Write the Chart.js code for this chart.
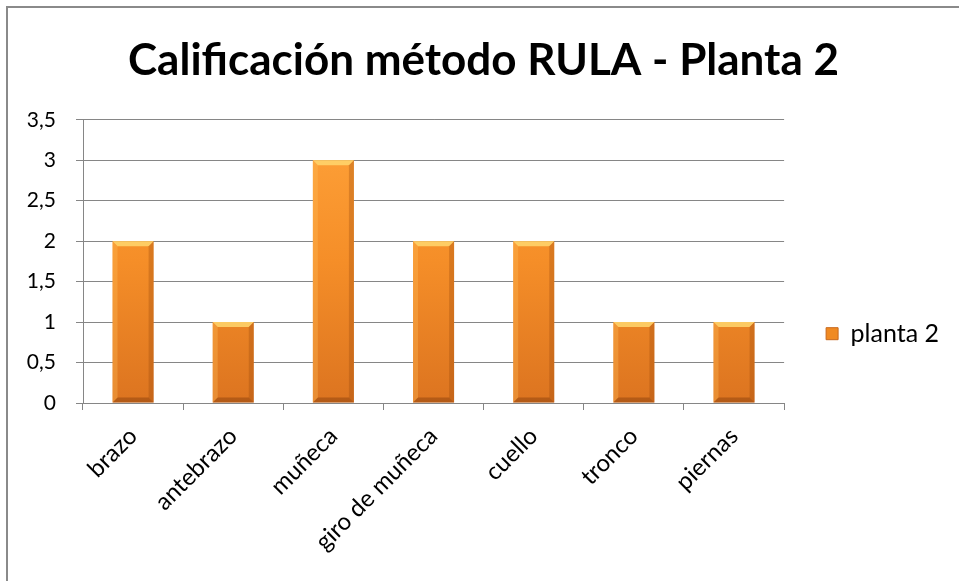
<!DOCTYPE html>
<html><head><meta charset="utf-8">
<script src="https://cdn.jsdelivr.net/npm/chart.js@4.4.0/dist/chart.umd.min.js"></script>
<style>
html,body{margin:0;padding:0;background:#fff;}
#wrap{position:absolute;left:0;top:0;width:959px;height:581px;}
#frame{position:absolute;left:6px;top:6px;width:960px;height:600px;border-left:2px solid #8a8a8a;border-top:2px solid #8a8a8a;box-sizing:border-box;pointer-events:none;}
canvas{position:absolute;left:0;top:0;}
</style></head>
<body>
<div id="wrap"><canvas id="c" width="959" height="581"></canvas><div id="frame"></div></div>
<script>
const categories = ["brazo","antebrazo","muñeca","giro de muñeca","cuello","tronco","piernas"];
const planta2 = [2,1,3,2,2,1,1];
const yTicks = [0,0.5,1,1.5,2,2.5,3,3.5];
const seriesName = "planta 2";
const titleText = "Calificación método RULA - Planta 2";

function barFill(ctx){
  const chart = ctx.chart; const a = chart.chartArea;
  if(!a) return '#F7931E';
  const g = chart.ctx.createLinearGradient(0,a.top,0,a.bottom);
  g.addColorStop(0,'#FFA33A');
  g.addColorStop(0.5,'#F58E28');
  g.addColorStop(1,'#DC7420');
  return g;
}

const bevel = {
  id:'bevel',
  afterDatasetsDraw(chart){
    const c = chart.ctx;
    chart.getDatasetMeta(0).data.forEach(b=>{
      const x0=b.x-b.width/2, x1=b.x+b.width/2, y0=b.y, y1=b.base;
      const e=5;
      c.save();
      c.fillStyle='rgba(255,215,110,0.85)';
      c.beginPath();c.moveTo(x0,y0);c.lineTo(x1,y0);c.lineTo(x1-e,y0+e);c.lineTo(x0+e,y0+e);c.closePath();c.fill();
      c.fillStyle='rgba(255,190,90,0.35)';
      c.beginPath();c.moveTo(x0,y0);c.lineTo(x0+e,y0+e);c.lineTo(x0+e,y1-e);c.lineTo(x0,y1);c.closePath();c.fill();
      c.fillStyle='rgba(150,70,10,0.30)';
      c.beginPath();c.moveTo(x1,y0);c.lineTo(x1-e,y0+e);c.lineTo(x1-e,y1-e);c.lineTo(x1,y1);c.closePath();c.fill();
      c.fillStyle='rgba(130,60,10,0.45)';
      c.beginPath();c.moveTo(x0,y1);c.lineTo(x0+e,y1-e);c.lineTo(x1-e,y1-e);c.lineTo(x1,y1);c.closePath();c.fill();
      c.restore();
    });
  }
};

new Chart(document.getElementById('c'),{
  type:'bar',
  data:{labels:categories,datasets:[{label:seriesName,data:planta2,backgroundColor:barFill,borderWidth:0,barPercentage:0.41,categoryPercentage:1}]},
  options:{
    responsive:false,animation:false,
    layout:{padding:{left:18,right:10,top:20,bottom:0}},
    plugins:{
      title:{display:true,text:titleText,color:'#000',font:{family:'Lato',weight:'bold',size:44},padding:{top:14,bottom:33}},
      legend:{position:'right',align:'start',
        title:{display:true,text:' ',font:{size:1},padding:{top:258,bottom:0}},
        labels:{font:{family:'Lato',size:25},color:'#000',boxWidth:12,boxHeight:12,padding:42,
        generateLabels(chart){return [{text:seriesName,fillStyle:'#F08A22',strokeStyle:'#C8681C',fontColor:'#000',lineWidth:1,datasetIndex:0}];}}},
      tooltip:{enabled:false}
    },
    scales:{
      x:{grid:{offset:true,drawOnChartArea:false,color:'#868686',tickLength:7},border:{color:'#868686'},
         ticks:{maxRotation:45,minRotation:45,color:'#000',font:{family:'Lato',size:24},padding:12},
         afterFit(ax){ax.height=178;}},
      y:{min:0,max:3.5,afterBuildTicks(ax){ax.ticks=yTicks.map(v=>({value:v}));},
         grid:{color:'#868686',tickLength:7},border:{color:'#868686'},
         ticks:{color:'#000',font:{family:'Lato',size:21},padding:20,callback:v=>String(v).replace('.',',')},
         afterFit(ax){ax.width=65;}}
    }
  },
  plugins:[bevel]
});
</script>
</body></html>
